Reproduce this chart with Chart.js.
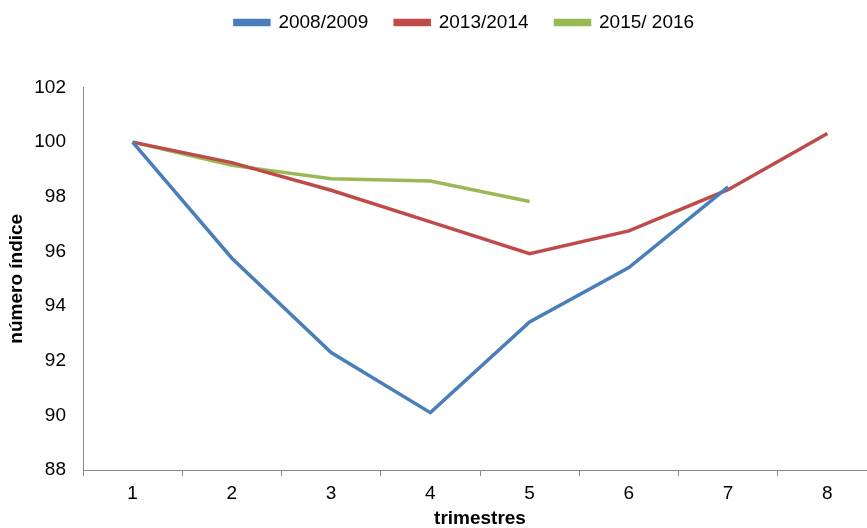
<!DOCTYPE html>
<html>
<head>
<meta charset="utf-8">
<script src="https://cdn.jsdelivr.net/npm/chart.js@4/dist/chart.umd.min.js"></script>
<style>
  html, body { margin: 0; padding: 0; background: #fff; overflow: hidden; }
</style>
</head>
<body>
<canvas id="indexChart" width="880" height="528"></canvas>
<script>
const trimestres = ["1", "2", "3", "4", "5", "6", "7", "8"];
const serie2008 = [100, 95.75, 92.3, 90.1, 93.42, 95.41, 98.36, null];
const serie2013 = [100, 99.25, 98.24, 97.08, 95.92, 96.75, 98.26, 100.32];
const serie2015 = [100, 99.15, 98.66, 98.58, 97.83, null, null, null];
const yTicks = [88, 90, 92, 94, 96, 98, 100, 102];

const family = "'Liberation Sans', Arial, sans-serif";
const font = { family: family, size: 19 };
const boldFont = { family: family, size: 19, weight: 'bold' };

// extra space under the legend, and legend nudged right like the original
const legendTweak = {
  id: 'legendTweak',
  beforeInit(chart) {
    const fit = chart.legend.fit;
    chart.legend.fit = function () {
      fit.bind(chart.legend)();
      this.height += 45.5;
    };
  },
  afterLayout(chart) {
    chart.legend.left += 26;
    chart.legend.right += 26;
  }
};

function line(label, data, color) {
  return {
    label: label,
    data: data,
    borderColor: color,
    backgroundColor: color,
    borderWidth: 3.5,
    pointRadius: 0,
    tension: 0,
    spanGaps: false
  };
}

new Chart(document.getElementById("indexChart"), {
  type: 'line',
  data: {
    labels: trimestres,
    datasets: [
      line("2008/2009", serie2008, "#4A7EBB"),
      line("2013/2014", serie2013, "#BE4B48"),
      line("2015/ 2016", serie2015, "#98B954")
    ]
  },
  options: {
    responsive: false,
    animation: false,
    layout: { padding: { left: 0, right: 3, top: -14, bottom: 0 } },
    plugins: {
      tooltip: { enabled: false },
      legend: {
        position: 'top',
        labels: {
          font: font,
          color: '#000',
          boxWidth: 34,
          boxHeight: 4,
          padding: 27
        }
      }
    },
    scales: {
      x: {
        offset: true,
        grid: {
          offset: true,
          drawOnChartArea: false,
          tickLength: 6,
          color: '#868686'
        },
        border: { color: '#868686' },
        ticks: { font: font, color: '#000', padding: 6 },
        title: {
          display: true,
          text: 'trimestres',
          font: boldFont,
          color: '#000',
          padding: { top: -3.2, bottom: -2.4 }
        }
      },
      y: {
        min: 88,
        max: 102,
        afterBuildTicks(axis) {
          axis.ticks = yTicks.map(v => ({ value: v }));
        },
        grid: { drawOnChartArea: false, drawTicks: false },
        border: { color: '#868686' },
        ticks: { font: font, color: '#000', padding: 17 },
        title: {
          display: true,
          text: 'número índice',
          font: boldFont,
          color: '#000',
          padding: { top: 5, bottom: -10.5 }
        }
      }
    }
  },
  plugins: [legendTweak]
});
</script>
</body>
</html>
